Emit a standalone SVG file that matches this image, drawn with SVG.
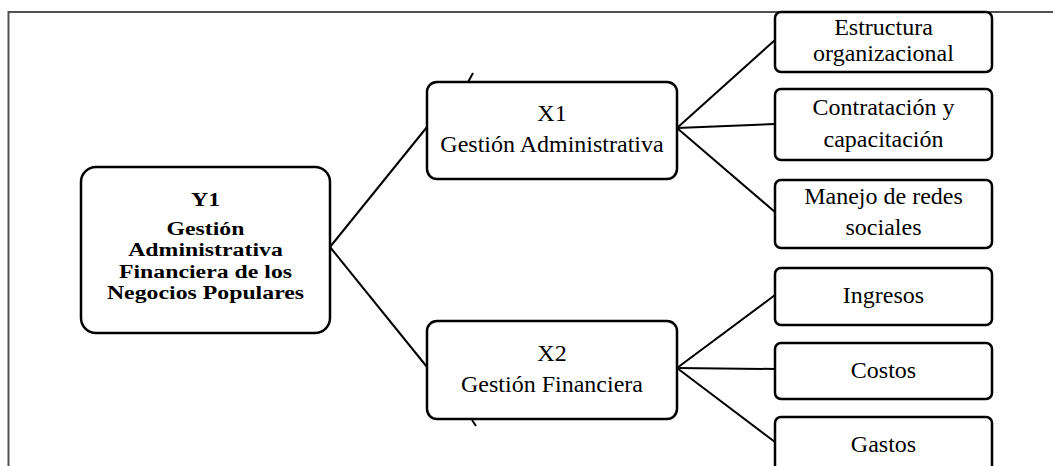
<svg xmlns="http://www.w3.org/2000/svg" width="1053" height="466" viewBox="0 0 1053 466">
<style>
.box{fill:#fff;stroke:#000;stroke-width:2.5}
.t{font-family:"Liberation Serif","Times New Roman",serif;font-size:24px;fill:#000;text-anchor:middle}
.b{font-weight:bold;font-size:19.5px}
.c{stroke:#000;stroke-width:2;fill:none}
.frame{stroke:#505050;stroke-width:2;fill:none}
</style>
<rect width="1053" height="466" fill="#fff"/>
<path class="frame" d="M8.5 466 V12 H1053"/>
<g id="connectors">
<line class="c" x1="330" y1="247" x2="427" y2="127"/>
<line class="c" x1="330" y1="247" x2="427" y2="367"/>
<line class="c" x1="677" y1="128" x2="775" y2="40"/>
<line class="c" x1="677" y1="128" x2="775" y2="124"/>
<line class="c" x1="677" y1="128" x2="775" y2="212"/>
<line class="c" x1="677" y1="368" x2="775" y2="295"/>
<line class="c" x1="677" y1="368" x2="775" y2="369"/>
<line class="c" x1="677" y1="368" x2="775" y2="442"/>
<line class="c" x1="467" y1="84" x2="473" y2="73"/>
<line class="c" x1="472" y1="420" x2="476" y2="426"/>
</g>
<g id="y1">
<rect class="box" x="81" y="167" width="249" height="166" rx="15"/>
<g transform="translate(205.5 0) scale(1.22 1)">
<text class="t b" x="0" y="206">Y1</text>
<text class="t b" x="0" y="235">Gestión</text>
<text class="t b" x="0" y="256.5">Administrativa</text>
<text class="t b" x="0" y="278">Financiera de los</text>
<text class="t b" x="0" y="299.5">Negocios Populares</text>
</g>
</g>
<g id="x1">
<rect class="box" x="427" y="82" width="250" height="97" rx="10"/>
<text class="t" x="552" y="121">X1</text>
<text class="t" x="552" y="152">Gestión Administrativa</text>
</g>
<g id="x2">
<rect class="box" x="427" y="321" width="250" height="98" rx="10"/>
<text class="t" x="552" y="361">X2</text>
<text class="t" x="552" y="392">Gestión Financiera</text>
</g>
<g id="estructura">
<rect class="box" x="775" y="12" width="217" height="60" rx="6"/>
<text class="t" x="883.5" y="35">Estructura</text>
<text class="t" x="883.5" y="61">organizacional</text>
</g>
<g id="contratacion">
<rect class="box" x="775" y="89" width="217" height="71" rx="6"/>
<text class="t" x="883.5" y="115">Contratación y</text>
<text class="t" x="883.5" y="147">capacitación</text>
</g>
<g id="redes">
<rect class="box" x="775" y="180" width="217" height="68" rx="6"/>
<text class="t" x="883.5" y="204">Manejo de redes</text>
<text class="t" x="883.5" y="235">sociales</text>
</g>
<g id="ingresos">
<rect class="box" x="775" y="268" width="217" height="57" rx="6"/>
<text class="t" x="883.5" y="303">Ingresos</text>
</g>
<g id="costos">
<rect class="box" x="775" y="343" width="217" height="56" rx="6"/>
<text class="t" x="883.5" y="378">Costos</text>
</g>
<g id="gastos">
<rect class="box" x="775" y="417" width="217" height="60" rx="6"/>
<text class="t" x="883.5" y="452">Gastos</text>
</g>
</svg>
